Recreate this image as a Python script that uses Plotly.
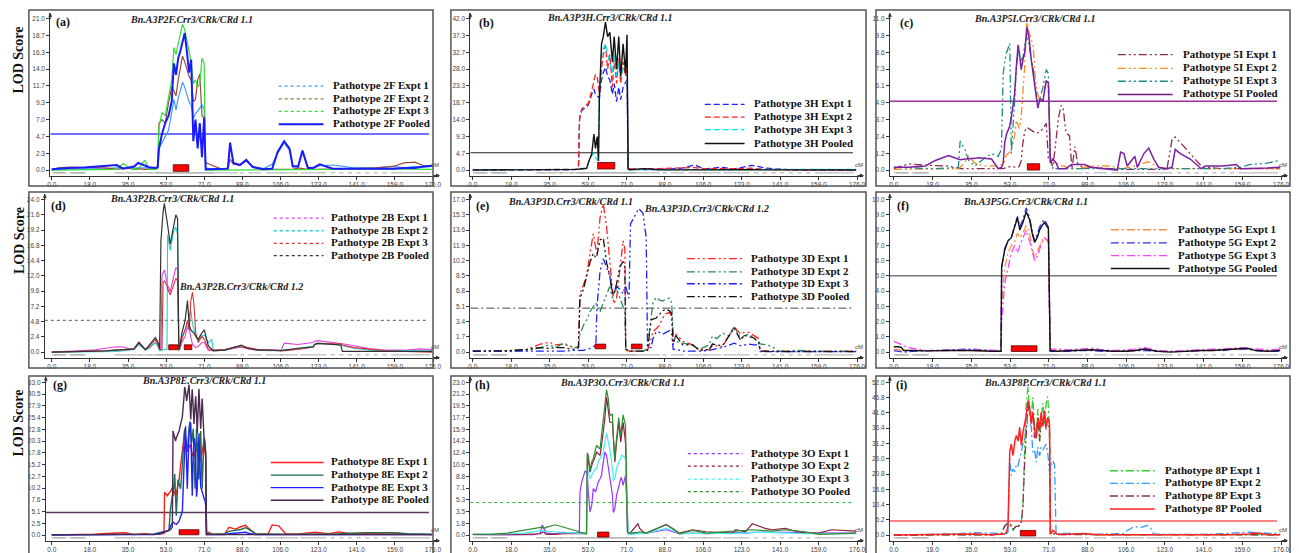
import plotly.graph_objects as go

W, H = 1299, 553

# ---------------- shared axis data ----------------
MAP_LENGTH = 176.4
X_TICK_LABELS = ["0.0", "18.0", "35.0", "53.0", "71.0", "88.0", "106.0", "123.0", "141.0", "159.0", "176.0"]
EXPERIMENTS = ["Expt 1", "Expt 2", "Expt 3", "Pooled"]
MARKER_CM = [1, 2, 3, 4, 5, 6, 9, 10, 11, 12, 13, 14, 15, 30, 31.5, 33, 35, 36.5, 38, 40, 41, 43, 45, 46,
             48, 49, 50, 51, 52, 53, 54, 55, 56, 57, 58, 59, 60, 61, 62, 63, 64, 65, 66, 67, 68, 69, 70,
             71, 72, 73, 74, 75, 77, 79, 81, 83, 85, 88, 92, 94, 96, 100, 102, 104, 106, 107, 109, 111,
             113, 116, 118, 120, 122, 124, 126, 130, 134, 138, 142, 146, 150, 154, 158, 160, 162, 164,
             166, 168, 170, 172, 174]

# ---------------- (a) Pathotype 2F ----------------
A_CM = [0, 3, 8, 15, 25, 30, 33, 35, 38, 40, 43, 45, 48, 49, 49.6, 51, 52.5, 54, 55.5, 56.5,
        57.5, 58.5, 59.5, 60.5, 61.5, 62.5, 63.5, 64.5, 65.5, 66.5, 67.5, 68.5, 69.5, 70.5, 71.2, 73, 78, 81.5, 82.5, 84,
        87, 90, 93, 98, 102, 104.5, 107.5, 110, 111.5, 114, 116, 118.5, 121, 124, 130, 140, 150, 158, 163, 168,
        172, 176]
A_EXPT1 = [0.1, 0.1, 0.2, 0.2, 0.2, 0.3, 0.3, 0.2, 0.3, 0.3, 0.2, 0.2, 0.2, 0.3, 3.0, 3.8, 4.5, 5.5, 8.0, 9.8,
           8.3, 10.0, 11.0, 12.2, 11.5, 10.5, 9.5, 9.0, 7.2, 7.8, 8.2, 8.5, 9.0, 8.5, 0.3, 0.2, 0.1, 0.3, 3.5, 1.0,
           0.7, 1.3, 0.5, 0.2, 0.8, 2.3, 3.8, 2.7, 0.6, 0.6, 2.5, 0.4, 0.3, 0.6, 0.7, 0.3, 0.3, 0.5, 0.3, 0.5,
           0.4, 0.5]
A_EXPT2 = [0.0, 0.3, 0.4, 0.4, 0.3, 0.1, 0.2, 0.3, 0.1, 0.2, 0.1, 0.1, 0.2, 0.3, 6.5, 7.0, 6.5, 9.3, 11.5, 11.0,
           10.3, 12.5, 14.0, 15.8, 15.0, 14.0, 13.0, 12.5, 9.5, 9.8, 12.5, 13.3, 7.5, 7.3, 1.0, 0.8, 0.2, 0.2, 1.5, 0.8,
           0.7, 1.3, 0.5, 0.1, 0.1, 0.1, 0.1, 0.1, 0.1, 0.3, 0.2, 0.1, 0.1, 0.1, 0.1, 0.2, 0.3, 0.5, 1.0, 1.1,
           0.6, 0.6]
A_EXPT3 = [0.0, 0.0, 0.0, 0.0, 0.0, 0.1, 0.9, 0.5, 0.1, 0.1, 1.4, 0.1, 0.1, 0.2, 6.0, 8.0, 7.5, 10.0, 12.5, 17.0,
           16.0, 17.5, 18.8, 20.2, 19.5, 18.0, 16.5, 15.0, 12.0, 12.5, 11.5, 12.0, 15.5, 14.8, 0.0, 0.0, 0.0, 0.0, 0.1, 0.0,
           0.1, 0.1, 0.0, 0.0, 0.0, 0.1, 0.1, 0.1, 0.1, 0.1, 0.1, 0.1, 0.1, 0.1, 0.1, 0.2, 0.2, 0.2, 0.1, 0.1,
           0.1, 0.1]
A_POOLED = [0.1, 0.2, 0.3, 0.35, 0.55, 0.7, 0.2, 0.3, 0.5, 1.0, 0.6, 0.4, 0.3, 0.4, 3.0, 5.0, 6.5, 7.5, 9.5, 14.8,
            13.2, 15.5, 16.5, 18.0, 19.0, 16.5, 13.5, 15.3, 4.0, 7.0, 3.0, 6.5, 1.8, 7.3, 0.1, 0.1, 0.1, 0.2, 3.8, 1.0,
            0.7, 1.4, 0.4, 0.1, 0.2, 2.5, 4.0, 3.0, 0.5, 0.5, 2.7, 0.3, 0.3, 0.8, 0.2, 0.2, 0.1, 0.2, 0.3, 0.3,
            0.5, 0.6]
A_QTL = [(56.2, 63.4)]

# ---------------- (b) Pathotype 3H ----------------
B_CM = [0, 20, 40, 47, 48.5, 49, 50, 52.3, 53, 54.6, 55.6, 56.3, 57.1, 57.7, 58.1, 59.1, 59.9, 60.9, 61.9, 62.9,
        64.1, 64.9, 66.0, 67.0, 67.9, 69.0, 70.1, 70.8, 71.3, 72, 79, 85, 95, 102, 106, 114, 120, 128, 135, 145,
        176]
B_EXPT1 = [0, 0, 0, 0.1, 0.4, 14.5, 16.5, 17.5, 18.0, 21.0, 22.5, 21.0, 20.5, 20.0, 20.0, 25.0, 27.0, 28.5, 26.0, 25.0,
           21.0, 24.0, 19.0, 23.0, 19.5, 23.0, 24.0, 25.0, 0.5, 0.2, 0.1, 0.2, 0.4, 1.4, 0.3, 0.8, 0.3, 1.3, 0.5, 0.1,
           0]
B_EXPT2 = [0, 0, 0.1, 0.2, 0.5, 14.0, 17.0, 18.0, 18.5, 22.0, 25.0, 26.5, 26.0, 22.0, 21.0, 28.0, 32.0, 34.5, 28.0, 32.0,
           23.0, 31.0, 24.0, 31.0, 24.0, 30.0, 26.0, 30.5, 0.5, 0.3, 0.3, 0.4, 0.6, 0.7, 0.4, 0.3, 0.4, 0.5, 0.2, 0.1,
           0]
B_EXPT3 = [0, 0, 0, 0, 0.1, 0.2, 0.3, 0.5, 2.0, 4.0, 4.7, 3.5, 3.0, 2.5, 20.0, 32.0, 33.5, 35.0, 32.0, 30.0,
           27.0, 32.0, 26.0, 30.0, 26.0, 28.0, 30.0, 32.0, 0.2, 0.1, 0.1, 0.1, 0.1, 0.1, 0.1, 0.1, 0.1, 0.1, 0.1, 0.1,
           0.2]
B_POOLED = [0, 0, 0, 0.1, 0.2, 0.3, 0.3, 0.5, 2.0, 4.5, 10.0, 6.0, 9.3, 2.5, 20.0, 35.0, 37.0, 41.0, 37.0, 38.2,
            30.0, 37.0, 28.0, 37.0, 26.0, 35.0, 27.0, 37.5, 0.3, 0.1, 0.4, 0.1, 0.05, 0.1, 0.1, 0.1, 0.05, 0.1, 0.05, 0,
            0]
B_QTL = [(57.3, 65.2)]

# ---------------- (c) Pathotype 5I ----------------
C_CM = [0, 6.8, 14.3, 18.9, 24.9, 29.4, 30.2, 32.4, 34, 37, 38.5, 41.5, 44.5, 47.5, 49, 49.8, 50.5, 51.3, 52.8, 53.5,
        55, 55.8, 56.6, 57.2, 58, 58.8, 59.6, 60.6, 61.6, 62.6, 63.5, 64.5, 65.6, 66.6, 67.9, 69.4, 70.4, 71.3, 72.4, 74,
        75, 76.2, 77.2, 78.4, 80, 81.1, 82.5, 83.7, 86.7, 90, 97, 101.8, 103.3, 104.8, 106.3, 107.8, 109.8, 110.9, 113.9, 116.1,
        118.4, 120.7, 124.4, 126.7, 128.2, 130.5, 135, 140, 142, 150, 156, 158, 162, 170, 176]
C_EXPT1 = [0.1, 0.45, 0.35, 0.35, 0.3, 0.1, 0.1, 0.05, 0.05, 0.05, 0.05, 0.05, 0.05, 0.1, 0.1, 0.1, 0.15, 0.2, 0.25, 0.25,
           0.2, 0.2, 0.2, 0.3, 0.7, 2.0, 2.8, 3.1, 3.0, 2.9, 2.8, 2.7, 2.7, 2.8, 3.0, 3.4, 0.8, 0.9, 0.1, 2.5,
           3.8, 4.7, 4.4, 2.7, 2.5, 0.1, 1.7, 0.5, 0.1, 0.2, 0.1, 0.05, 0.05, 0.05, 0.05, 0.05, 0.05, 0.05, 0.05, 0.05,
           0.05, 0.05, 0.05, 2.2, 2.4, 2.0, 1.2, 0.3, 0.2, 0.1, 0.1, 0.1, 0.1, 0.1, 0.1]
C_EXPT2 = [0.05, 0.05, 0.05, 0.05, 0.1, 0.1, 0.2, 0.6, 1.0, 0.5, 0.4, 0.3, 0.3, 0.3, 0.4, 0.4, 0.7, 1.1, 1.3, 1.4,
           2.5, 3.6, 3.3, 3.0, 3.8, 5.5, 7.5, 10.9, 10.0, 9.5, 9.0, 6.5, 5.5, 5.0, 5.2, 6.5, 6.0, 0.5, 0.5, 0.5,
           0.4, 0.3, 0.3, 0.2, 0.1, 0.1, 0.1, 0.1, 0.2, 0.3, 0.3, 0.2, 0.1, 0.1, 0.2, 0.2, 0.3, 0.3, 0.5, 0.6,
           0.4, 0.2, 0.1, 0.1, 0.1, 0.1, 0.05, 0.05, 0.05, 0.05, 0.05, 0.05, 0.05, 0.05, 0.1]
C_EXPT3 = [0.2, 0.15, 0.1, 0.1, 0.15, 0.2, 2.1, 1.5, 0.7, 0.3, 0.5, 0.9, 1.2, 1.0, 1.5, 7.0, 7.8, 8.5, 9.2, 1.2,
           5.0, 7.5, 8.6, 8.2, 8.0, 8.2, 9.0, 9.9, 9.0, 8.0, 7.3, 5.8, 5.0, 5.2, 6.0, 7.3, 7.0, 0.5, 0.3, 0.1,
           0.1, 0.1, 0.1, 0.1, 0.1, 0.1, 0.1, 0.1, 0.1, 0.1, 0.1, 0.1, 0.1, 0.1, 0.1, 0.1, 0.1, 0.1, 0.1, 0.1,
           0.1, 0.1, 0.1, 0.1, 0.1, 0.1, 0.1, 0.1, 0.1, 0.1, 0.2, 0.2, 0.4, 0.5, 0.7]
C_POOLED = [0.2, 0.2, 0.3, 0.7, 1.05, 0.8, 0.75, 0.8, 0.8, 0.85, 0.9, 0.85, 0.8, 0.1, 0.2, 0.5, 2.0, 2.6, 3.2, 3.8,
            5.5, 7.5, 9.1, 8.5, 7.3, 8.0, 8.5, 10.4, 9.6, 8.0, 7.0, 6.0, 4.5, 5.2, 5.0, 6.5, 6.3, 0.5, 0.8, 0.5,
            0.1, 0.1, 0.1, 0.1, 0.3, 0.4, 0.4, 0.4, 0.4, 0.2, 0.1, 0.0, 1.3, 1.2, 0.3, 0.6, 1.0, 0.2, 1.2, 1.6,
            0.8, 0.2, 0.1, 0.2, 1.5, 1.2, 0.8, 0.1, 0.3, 0.3, 0.4, 0.1, 0.1, 0.15, 0.2]
C_QTL = [(60.8, 66.4)]

# ---------------- (d) Pathotype 2B ----------------
D_CM = [0, 10, 18.8, 25, 29.6, 33.4, 36, 38, 40.3, 41.8, 43.3, 44.9, 47.9, 49.2, 49.9, 50.5, 51, 51.5, 52.1, 53.3,
        53.6, 54.8, 56.4, 57.4, 58.2, 58.8, 59.3, 60.2, 61.7, 62.8, 63.6, 64.3, 65.1, 65.8, 66.6, 67.8, 69.4, 70.6, 72.4, 74,
        74.8, 80, 84.7, 87.7, 90.8, 95.4, 101, 106.1, 107.6, 113.8, 121, 121.6, 123, 133.7, 134.5, 139.8, 147.5, 155.1, 163, 170.4,
        176]
D_EXPT1 = [0.0, 0.1, 0.3, 0.6, 0.85, 0.8, 0.5, 0.4, 1.2, 0.8, 0.4, 0.6, 1.5, 1.0, 0.5, 0.5, 12.0, 12.5, 12.9, 11.0,
           10.5, 9.5, 12.0, 13.3, 13.0, 0.3, 0.5, 1.5, 2.5, 4.0, 3.5, 2.5, 1.2, 1.0, 0.7, 0.9, 1.5, 1.5, 0.3, 0.2,
           0.2, 0.3, 0.6, 0.8, 0.5, 0.3, 0.3, 0.3, 1.4, 1.2, 1.5, 1.7, 1.8, 1.4, 1.3, 1.0, 0.5, 0.3, 0.3, 0.5,
           0.4]
D_EXPT2 = [0.0, 0.0, 0.05, 0.1, 0.1, 0.2, 0.3, 0.4, 1.2, 0.8, 0.3, 0.6, 1.5, 0.8, 0.2, 0.2, 0.3, 0.3, 0.4, 0.4,
           18.5, 16.0, 19.0, 19.7, 18.5, 0.3, 0.8, 2.5, 3.5, 4.5, 5.5, 6.6, 4.5, 3.5, 2.5, 1.8, 2.5, 2.7, 1.5, 2.0,
           0.3, 0.3, 0.8, 1.0, 0.6, 0.3, 0.2, 0.2, 0.3, 0.5, 1.0, 1.2, 1.3, 1.2, 1.0, 0.6, 0.3, 0.2, 0.2, 0.2,
           0.2]
D_EXPT3 = [0.0, 0.05, 0.1, 0.2, 0.3, 0.3, 0.4, 0.5, 1.6, 1.0, 0.4, 0.8, 2.0, 1.2, 0.4, 0.4, 0.5, 11.0, 11.2, 10.5,
           10.0, 9.0, 10.5, 11.6, 11.2, 0.3, 0.8, 2.0, 3.5, 5.0, 3.5, 8.0, 9.4, 7.5, 3.0, 1.5, 2.5, 2.0, 0.5, 0.3,
           0.3, 0.4, 0.8, 0.8, 0.7, 0.4, 0.3, 0.2, 0.2, 0.4, 0.8, 1.2, 1.3, 1.3, 1.1, 0.7, 0.4, 0.2, 0.1, 0.05,
           0.0]
D_POOLED = [0.0, 0.05, 0.1, 0.2, 0.3, 0.4, 0.4, 0.5, 1.5, 1.0, 0.4, 1.0, 2.3, 1.5, 0.5, 17.5, 20.0, 22.0, 23.4, 21.0,
            20.0, 17.0, 20.0, 21.6, 21.0, 0.3, 1.0, 3.0, 5.0, 8.1, 4.3, 3.5, 3.2, 3.0, 2.5, 2.0, 3.0, 3.5, 1.0, 0.4,
            0.2, 0.3, 0.8, 1.1, 0.6, 0.3, 0.3, 0.2, 0.3, 0.6, 0.8, 1.2, 1.4, 1.1, 0.1, 0.1, 0.2, 0.1, 0.1, 0.1,
            0.1]
D_QTL = [(54.1, 58.2), (61.3, 64.8)]

# ---------------- (e) Pathotype 3D ----------------
E_CM = [0, 15.8, 25, 31, 35, 38, 41.6, 46.2, 48.5, 49.2, 50.8, 52.3, 53.8, 55.3, 56.5, 57, 58.4, 59.9, 61.4, 62.9,
        64.1, 64.7, 66, 67.5, 69, 69.8, 70.2, 71.7, 72.4, 75.1, 76.1, 78.1, 79.6, 80.2, 81.9, 82.7, 84.2, 85.7, 87.2, 88.7,
        90.3, 91.3, 92, 93.3, 96.4, 100.9, 104, 108.5, 110, 112, 114.6, 117.6, 120, 123, 124.5, 126.7, 129, 131.3, 132, 135,
        137.4, 140.4, 148, 160, 176]
E_EXPT1 = [0.1, 0.1, 0.3, 0.9, 1.1, 0.8, 0.9, 0.5, 0.6, 6.5, 7.5, 8.6, 11.0, 13.2, 11.5, 11.0, 15.0, 16.5, 14.0, 10.0,
           7.0, 5.4, 6.0, 9.0, 12.4, 11.5, 0.2, 0.1, 0.1, 0.1, 0.1, 0.1, 0.2, 0.2, 1.5, 2.3, 2.6, 3.0, 3.8, 4.3,
           4.4, 4.0, 0.8, 2.0, 1.2, 0.8, 0.2, 0.3, 0.7, 0.7, 0.6, 1.8, 2.8, 2.0, 2.2, 2.2, 1.8, 1.5, 0.1, 0.1,
           0.05, 0.05, 0.05, 0.1, 0.1]
E_EXPT2 = [0.1, 0.1, 0.2, 0.5, 0.8, 0.5, 1.0, 0.5, 0.5, 2.0, 3.0, 3.6, 4.5, 5.0, 5.5, 5.0, 4.5, 5.5, 6.5, 7.3,
           6.0, 6.5, 7.1, 6.0, 5.0, 4.5, 0.3, 0.1, 0.1, 0.1, 0.1, 0.1, 0.3, 0.5, 4.0, 5.5, 6.1, 5.8, 5.7, 5.9,
           6.0, 5.5, 1.8, 1.2, 1.0, 0.8, 0.3, 0.8, 1.8, 1.5, 2.1, 1.8, 2.8, 1.5, 1.8, 2.0, 1.6, 1.0, 0.9, 0.8,
           0.6, 0.1, 0.2, 0.1, 0.1]
E_EXPT3 = [0.1, 0.1, 0.1, 0.1, 0.1, 0.1, 0.1, 0.2, 0.2, 0.2, 0.2, 0.3, 0.4, 0.6, 0.8, 5.0, 9.0, 10.4, 9.5, 8.5,
           6.5, 6.8, 7.3, 7.0, 6.5, 7.2, 7.3, 6.0, 14.3, 15.5, 16.0, 15.5, 12.8, 0.5, 0.5, 1.5, 2.3, 2.2, 2.0, 2.2,
           2.4, 2.0, 0.3, 0.3, 0.1, 0.1, 0.1, 0.2, 0.3, 0.4, 0.5, 0.8, 1.0, 0.7, 0.8, 0.9, 0.8, 0.8, 0.05, 0.05,
           0.05, 0.05, 0.05, 0.05, 0.05]
E_POOLED = [0.1, 0.15, 0.3, 0.5, 0.4, 0.5, 0.5, 0.3, 0.5, 6.0, 7.0, 8.5, 10.0, 11.0, 10.5, 10.8, 12.5, 12.7, 10.0, 8.5,
            6.5, 6.5, 7.6, 9.5, 10.1, 9.5, 0.3, 0.2, 0.1, 0.1, 0.1, 0.1, 0.2, 0.2, 3.6, 3.7, 3.8, 4.2, 4.6, 4.8,
            4.6, 4.3, 1.0, 1.8, 0.8, 0.8, 0.2, 0.3, 0.9, 0.8, 0.7, 1.8, 2.7, 1.3, 1.9, 1.7, 1.6, 1.0, 0.1, 0.1,
            0.05, 0.05, 0.05, 0.05, 0.05]
E_QTL = [(56.1, 61.0), (72.8, 77.7)]

# ---------------- (f) Pathotype 5G ----------------
F_CM = [0, 2, 3.5, 4.5, 8, 15, 25, 35, 45, 48.8, 49.1, 50.5, 52, 53.5, 55, 56.3, 57.4, 58.8, 60.3, 61.8,
        63, 64.1, 65.3, 66.4, 67.5, 68.6, 70.4, 71.2, 74, 80, 85, 90, 95, 100, 106, 110, 114, 120, 126, 132,
        140, 145, 150, 155, 158, 161, 165, 170, 176]
F_EXPT1 = [0.2, 0.15, 0.1, 0.1, 0.1, 0.1, 0.1, 0.1, 0.05, 0.05, 3.0, 5.5, 6.5, 7.0, 7.2, 7.8, 7.5, 7.8, 8.3, 7.8,
           6.8, 6.2, 6.6, 7.0, 7.3, 7.5, 7.2, 0.1, 0.15, 0.1, 0.1, 0.15, 0.1, 0.05, 0.05, 0.1, 0.2, 0.05, 0.05, 0.05,
           0.1, 0.1, 0.15, 0.2, 0.25, 0.2, 0.15, 0.1, 0.15]
F_EXPT2 = [0.1, 0.05, 0.0, 0.0, 0.05, 0.1, 0.15, 0.2, 0.1, 0.05, 5.5, 6.8, 7.3, 7.5, 8.3, 8.9, 8.2, 8.7, 9.45, 8.8,
           8.0, 7.3, 7.7, 8.2, 8.5, 8.7, 8.2, 0.05, 0.05, 0.05, 0.1, 0.1, 0.05, 0.05, 0.1, 0.1, 0.1, 0.05, 0.05, 0.05,
           0.1, 0.15, 0.1, 0.2, 0.2, 0.2, 0.1, 0.05, 0.05]
F_EXPT3 = [0.7, 0.6, 0.5, 0.4, 0.25, 0.1, 0.1, 0.15, 0.1, 0.1, 2.0, 4.5, 5.5, 6.5, 7.0, 6.5, 7.0, 7.5, 8.0, 7.3,
           6.5, 6.0, 6.3, 6.8, 7.2, 7.5, 7.3, 0.2, 0.2, 0.15, 0.2, 0.25, 0.15, 0.1, 0.15, 0.2, 0.3, 0.1, 0.05, 0.1,
           0.15, 0.2, 0.2, 0.25, 0.3, 0.25, 0.2, 0.15, 0.2]
F_POOLED = [0.35, 0.35, 0.3, 0.1, 0.1, 0.08, 0.1, 0.1, 0.05, 0.05, 5.6, 6.7, 7.3, 7.5, 8.2, 8.8, 8.0, 8.5, 9.2, 8.7,
            7.8, 7.2, 7.5, 8.0, 8.3, 8.5, 8.1, 0.1, 0.05, 0.1, 0.1, 0.15, 0.1, 0.05, 0.05, 0.1, 0.2, 0.05, 0.0, 0.05,
            0.1, 0.1, 0.15, 0.2, 0.2, 0.25, 0.1, 0.05, 0.1]
F_QTL = [(53.5, 65.2)]

# ---------------- (g) Pathotype 8E ----------------
G_CM = [0, 10, 20, 25, 30, 34, 38, 43, 47, 49.6, 51.2, 51.9, 52.2, 53.5, 54.2, 55.0, 55.8, 56.1, 56.9, 57.3,
        57.6, 58.4, 58.9, 59.6, 60.4, 61.2, 61.5, 61.9, 62.4, 62.7, 63.5, 63.9, 64.3, 64.7, 65.0, 65.5, 65.8, 66.3, 66.6, 67.0,
        67.3, 68.1, 68.9, 69.6, 70.4, 70.9, 71.2, 71.6, 72.7, 74, 80, 82, 85, 87.4, 89.7, 91, 94.3, 100, 102, 105,
        108.2, 113, 119, 122, 128, 132.8, 138, 145, 157.5, 165, 176]
G_EXPT1 = [0.05, 0.1, 0.2, 0.35, 0.4, 0.5, 0.1, 0.3, 0.1, 0.2, 0.3, 0.3, 9.3, 8.5, 9.0, 9.5, 10.3, 10.0, 9.0, 8.5,
           9.0, 11.0, 12.0, 15.0, 18.0, 21.0, 22.5, 21.0, 19.0, 18.0, 19.0, 19.5, 19.6, 18.0, 17.5, 17.0, 17.0, 18.0, 18.5, 19.0,
           18.0, 17.0, 16.0, 18.0, 20.3, 18.0, 17.0, 0.3, 0.6, 0.2, 0.2, 1.7, 1.3, 1.8, 2.1, 1.5, 0.2, 0.2, 2.2, 2.0,
           0.3, 0.2, 0.4, 0.6, 0.3, 0.7, 0.3, 0.3, 0.5, 0.2, 0.1]
G_EXPT2 = [0.05, 0.05, 0.05, 0.1, 0.1, 0.1, 0.1, 0.1, 0.2, 0.5, 0.6, 0.7, 0.8, 0.9, 1.0, 6.0, 8.5, 8.5, 13.2, 8.0,
           4.2, 12.0, 11.0, 10.0, 15.0, 20.0, 23.0, 21.0, 19.0, 18.0, 23.0, 24.6, 22.0, 20.0, 21.0, 23.0, 17.0, 10.0, 16.0, 23.0,
           20.0, 12.0, 22.5, 10.0, 21.0, 19.0, 17.8, 0.2, 0.3, 0.2, 0.3, 0.8, 1.0, 1.2, 1.6, 1.3, 0.3, 0.2, 0.2, 0.2,
           0.2, 0.2, 0.2, 0.2, 0.3, 0.3, 0.4, 0.5, 0.5, 0.3, 0.2]
G_EXPT3 = [0.05, 0.05, 0.05, 0.05, 0.05, 0.05, 0.05, 0.05, 0.1, 0.3, 0.5, 0.6, 0.7, 0.8, 1.0, 2.0, 2.8, 2.8, 2.5, 2.3,
           2.3, 2.7, 3.0, 4.0, 5.0, 15.0, 20.0, 23.5, 15.0, 10.0, 22.0, 23.5, 24.3, 15.0, 8.5, 18.0, 21.0, 20.0, 14.0, 8.3,
           10.0, 22.0, 10.5, 9.0, 8.0, 7.5, 6.5, 0.1, 0.1, 0.1, 0.1, 0.3, 0.4, 0.5, 0.6, 0.4, 0.1, 0.1, 0.1, 0.1,
           0.1, 0.1, 0.1, 0.1, 0.1, 0.1, 0.2, 0.2, 0.2, 0.1, 0.1]
G_POOLED = [0.05, 0.05, 0.1, 0.1, 0.1, 0.1, 0.1, 0.1, 0.1, 0.2, 0.5, 0.6, 0.7, 0.8, 1.0, 1.2, 1.8, 22.5, 21.0, 20.3,
            21.0, 22.0, 22.5, 24.0, 25.5, 30.0, 32.0, 31.0, 29.0, 30.0, 32.5, 29.0, 25.0, 29.0, 31.5, 27.0, 24.0, 28.0, 30.0, 26.0,
            22.0, 31.6, 23.0, 29.5, 21.5, 20.0, 18.0, 0.1, 0.1, 0.1, 0.1, 0.1, 0.1, 0.1, 0.1, 0.1, 0.1, 0.1, 0.1, 0.1,
            0.1, 0.1, 0.1, 0.1, 0.1, 0.1, 0.1, 0.1, 0.1, 0.1, 0.1]
G_QTL = [(58.9, 68.1)]

# ---------------- (h) Pathotype 3O ----------------
H_CM = [0, 8.2, 15.8, 23.4, 28, 31, 31.8, 32.5, 33.3, 34, 37.8, 41.6, 46.2, 47.7, 48.9, 49.2, 50, 50.8, 51.5, 52.2,
        52.6, 53, 53.8, 54.6, 55.3, 56.4, 56.8, 57.6, 58.4, 59.1, 59.9, 60.6, 61.4, 62.2, 62.9, 64.1, 64.5, 65.2, 66.0, 67.0,
        67.9, 68.2, 69.0, 70.1, 71.0, 71.4, 72, 75.8, 76.6, 78.1, 79.6, 88.8, 91.8, 94.8, 100.9, 107, 119.1, 120.7, 125.2, 128.3,
        134.3, 137.4, 143.5, 146.5, 152.6, 158.7, 164.7, 173.9, 176]
H_EXPT1 = [0.05, 0.05, 0.05, 0.05, 0.05, 0.3, 1.5, 1.2, 0.5, 0.3, 0.2, 0.4, 0.3, 0.3, 0.5, 6.5, 8.0, 9.0, 9.6, 9.5,
           9.0, 6.5, 3.5, 4.5, 7.0, 6.5, 7.0, 8.0, 8.5, 9.0, 11.0, 12.5, 12.0, 10.0, 9.0, 6.0, 3.4, 4.0, 6.0, 7.5,
           8.5, 8.7, 7.5, 9.0, 2.0, 0.3, 0.2, 0.3, 0.3, 0.3, 0.3, 0.8, 0.5, 0.2, 0.3, 0.2, 0.3, 0.4, 0.3, 0.4,
           0.4, 0.4, 0.5, 0.4, 0.3, 0.3, 0.4, 0.3, 0.3]
H_EXPT2 = [0.1, 0.05, 0.05, 0.1, 0.1, 0.2, 0.4, 0.5, 0.2, 0.1, 0.1, 0.2, 0.2, 0.2, 0.2, 0.2, 0.2, 0.2, 0.2, 0.2,
           12.2, 11.5, 9.5, 10.5, 11.0, 12.0, 12.5, 12.3, 12.0, 13.5, 15.5, 17.5, 20.8, 19.0, 17.0, 17.0, 14.0, 11.0, 14.0, 17.0,
           14.0, 15.0, 17.0, 14.0, 0.5, 0.2, 0.2, 1.7, 1.0, 0.5, 0.3, 1.6, 1.0, 0.3, 0.8, 0.5, 0.3, 0.8, 0.5, 1.7,
           1.0, 0.8, 1.0, 0.7, 0.3, 0.3, 0.8, 0.7, 0.6]
H_EXPT3 = [0.1, 0.1, 0.2, 0.3, 0.5, 0.6, 0.7, 0.6, 0.6, 0.6, 0.5, 0.4, 0.4, 0.3, 0.2, 0.2, 0.2, 0.2, 0.2, 0.2,
           10.2, 9.5, 8.5, 9.0, 9.5, 10.0, 10.0, 11.0, 11.5, 12.0, 12.5, 14.0, 15.4, 14.0, 13.0, 10.0, 8.2, 8.5, 10.0, 11.0,
           11.5, 12.0, 11.9, 11.5, 1.0, 0.2, 0.1, 0.2, 0.2, 0.2, 0.3, 1.0, 0.7, 0.2, 0.3, 0.3, 0.2, 0.3, 0.3, 0.4,
           0.4, 0.4, 0.4, 0.3, 0.2, 0.2, 0.2, 0.2, 0.2]
H_POOLED = [0.1, 0.1, 0.3, 0.7, 0.9, 1.1, 1.2, 1.0, 1.1, 1.2, 1.55, 1.2, 0.8, 0.6, 0.5, 0.4, 0.4, 0.3, 0.3, 0.2,
            12.4, 12.0, 9.8, 11.0, 11.5, 13.0, 13.5, 13.2, 13.0, 15.0, 17.0, 19.5, 21.9, 20.5, 18.0, 18.2, 15.0, 11.4, 14.5, 17.7,
            15.0, 16.0, 18.1, 16.5, 0.5, 0.3, 0.3, 0.4, 0.5, 0.4, 0.3, 1.55, 1.0, 0.2, 0.7, 0.3, 0.5, 0.6, 0.7, 0.8,
            0.7, 0.6, 0.8, 0.7, 0.5, 0.1, 0.2, 0.3, 0.3]
H_QTL = [(57.3, 62.5)]

# ---------------- (i) Pathotype 8P ----------------
I_CM = [0, 10, 20, 29.4, 37, 44.5, 49, 50.5, 51.3, 52, 52.8, 53.5, 54.3, 55.1, 55.8, 56.6, 57.3, 58.1, 58.8, 59.6,
        60.3, 61.1, 61.8, 62.6, 63.3, 64.1, 64.9, 65.6, 66.4, 67.1, 67.9, 68.6, 69.4, 70.1, 70.9, 71.3, 71.6, 72.4, 73.2, 73.9,
        74.7, 77.7, 86.7, 92.8, 104.8, 106.3, 109.4, 112.4, 115.4, 116.9, 118.4, 125, 135, 145, 151.6, 162.1, 165.2, 171.2, 176]
I_EXPT1 = [0.0, 0.0, 0.1, 0.2, 0.1, 0.1, 0.5, 3.3, 3.8, 4.1, 4.0, 3.5, 1.5, 2.5, 3.5, 3.2, 3.5, 4.5, 10.0, 30.0,
           45.0, 50.5, 42.0, 40.0, 46.9, 37.0, 35.0, 43.0, 32.0, 40.0, 45.0, 38.0, 45.0, 47.2, 37.0, 0.5, 0.6, 0.8, 0.6, 0.4,
           0.3, 0.4, 0.2, 0.1, 0.1, 0.1, 0.1, 0.1, 0.1, 0.1, 0.1, 0.1, 0.1, 0.1, 0.1, 0.3, 0.3, 0.1, 0.1]
I_EXPT2 = [0.0, 0.1, 0.2, 0.5, 0.8, 0.5, 0.5, 0.5, 0.6, 1.0, 25.9, 20.3, 22.5, 21.5, 24.0, 23.5, 26.0, 29.0, 31.0, 33.0,
           37.0, 38.4, 38.0, 37.0, 28.2, 29.0, 24.8, 30.0, 27.0, 30.0, 29.0, 30.0, 31.0, 28.0, 21.4, 22.0, 24.0, 25.3, 24.0, 0.5,
           0.3, 0.6, 0.4, 0.3, 0.5, 1.5, 2.9, 2.5, 3.3, 2.5, 0.3, 0.2, 0.2, 0.3, 0.5, 1.0, 0.8, 0.5, 0.5]
I_EXPT3 = [0.0, 0.0, 0.1, 0.2, 0.2, 0.1, 0.4, 3.0, 3.6, 4.0, 3.5, 3.0, 2.0, 2.5, 3.0, 3.0, 3.2, 4.5, 10.0, 25.0,
           35.0, 44.5, 42.0, 38.0, 41.0, 33.0, 34.0, 40.0, 32.0, 38.0, 38.0, 40.0, 36.0, 40.0, 36.0, 0.3, 0.4, 0.5, 0.4, 0.3,
           0.2, 0.2, 0.2, 0.1, 0.1, 0.1, 0.1, 0.1, 0.1, 0.1, 0.1, 0.1, 0.1, 0.1, 0.1, 0.3, 0.3, 0.1, 0.1]
I_POOLED = [0.0, 0.05, 0.2, 0.3, 0.4, 0.1, 0.3, 0.4, 1.0, 3.0, 28.4, 31.0, 27.1, 32.0, 33.9, 32.0, 36.7, 30.5, 35.0, 37.5,
            40.7, 45.8, 44.0, 38.0, 42.0, 36.0, 33.0, 40.0, 36.0, 41.8, 37.0, 42.4, 37.0, 40.0, 38.0, 0.3, 0.8, 1.6, 1.2, 0.6,
            0.3, 0.2, 0.5, 0.1, 0.1, 0.1, 0.1, 0.2, 0.2, 0.2, 0.2, 0.1, 0.1, 0.1, 0.1, 0.4, 0.7, 0.1, 0.1]
I_QTL = [(57.6, 64.6)]

# ---------------- styling ----------------
SERIF = "Liberation Serif, Times New Roman, serif"
SANS = "Liberation Sans, Arial, sans-serif"
DD = "8px,3px,2px,3px,2px,3px"
DASHDOT = "8px,3px,2px,3px"
DASH = "6px,3px"

ROW_GEOM = [(171.0, 18.7), (354.0, 200.7), (538.0, 384.5)]  # (py of LOD 0, py of top tick)
COL_GEOM = [(49.0, 432.0), (472.0, 858.0), (895.0, 1284.0)]  # (px of 0 cM, px of last tick)
AXIS_X = [[47.5, 42.0, 43.0], [469.5, 469.5, 469.5], [891.0, 891.0, 891.0]]
FRAME_X = [(26, 432), (450, 867), (877, 1293)]
FRAME_Y = [(10, 187), (193, 370), (378, 562)]

# each style: (plot colour, plot dash, legend colour, legend dash, width)
PANELS = [
    dict(row=0, col=0, pt="2F", cm=A_CM, vals=[A_EXPT1, A_EXPT2, A_EXPT3, A_POOLED], ytop=21.0, ndiv=9, thr=5.0, qtl=A_QTL,
         bar=(5.4, -1.3),
         styles=[("#3d9bff", "solid", "#3d9bff", "dot", 1.2), ("#9c4a3c", "solid", "#8a7a30", "dot", 1.2),
                 ("#33dd33", "solid", "#33dd33", "dot", 1.2), ("#1a1aff", "solid", "#1a1aff", "solid", 2.0)],
         thr_style=("#7070ff", "solid", 2.0),
         titles=[("Bn.A3P2F.Crr3/CRk/CRd 1.1", 189, 20)], label=("(a)", 60, 22),
         legend=(277, 322, 330, [85.5, 98.5, 111, 124])),
    dict(row=0, col=1, pt="3H", cm=B_CM, vals=[B_EXPT1, B_EXPT2, B_EXPT3, B_POOLED], ytop=42.0, ndiv=9, thr=4.8, qtl=B_QTL,
         bar=(7.6, 1.1),
         styles=[("#2020ff", DASH, "#2020ff", DASH, 1.3), ("#ff2020", DASH, "#ff2020", DASH, 1.3),
                 ("#00e0f0", DASH, "#00e0f0", DASH, 1.3), ("#111111", "solid", "#111111", "solid", 1.4)],
         thr_style=("#222222", "solid", 1.0),
         titles=[("Bn.A3P3H.Crr3/CRk/CRd 1.1", 609, 18)], label=("(b)", 486, 23),
         legend=(705, 745, 752, [104, 116.7, 129.3, 143.3])),
    dict(row=0, col=2, pt="5I", cm=C_CM, vals=[C_EXPT1, C_EXPT2, C_EXPT3, C_POOLED], ytop=11.0, ndiv=9, thr=5.0, qtl=C_QTL,
         bar=(6.4, 0.0),
         styles=[("#8b2a4a", DD, "#8b2a4a", DD, 1.3), ("#ff8c1a", DD, "#ff8c1a", DD, 1.3),
                 ("#1f8a8a", DD, "#1f8a8a", DD, 1.3), ("#7b1fa2", "solid", "#6a1b7a", "solid", 1.5)],
         thr_style=("#9b309b", "solid", 1.5),
         titles=[("Bn.A3P5I.Crr3/CRk/CRd 1.1", 1037, 19)], label=("(c)", 908, 23),
         legend=(1120, 1175, 1183, [54, 67.7, 80.7, 94])),
    dict(row=1, col=0, pt="2B", cm=D_CM, vals=[D_EXPT1, D_EXPT2, D_EXPT3, D_POOLED], ytop=24.0, ndiv=10, thr=5.0, qtl=D_QTL,
         bar=(7.3, 2.4),
         styles=[("#e040e0", "solid", "#e040e0", "dot", 1.1), ("#20d0d0", "solid", "#20d0d0", "dot", 1.1),
                 ("#e03030", "solid", "#e03030", "dot", 1.1), ("#333333", "solid", "#333333", "dot", 1.2)],
         thr_style=("#555555", "dot", 1.0),
         titles=[("Bn.A3P2B.Crr3/CRk/CRd 1.1", 170, 200), ("Bn.A3P2B.Crr3/CRk/CRd 1.2", 239, 288)],
         label=("(d)", 56, 207), legend=(272, 322, 328, [218.3, 231, 243.7, 256])),
    dict(row=1, col=1, pt="3D", cm=E_CM, vals=[E_EXPT1, E_EXPT2, E_EXPT3, E_POOLED], ytop=17.0, ndiv=10, thr=4.9, qtl=E_QTL,
         bar=(8.0, 3.3),
         styles=[("#ff2020", DD, "#ff2020", DD, 1.3), ("#2e8b57", DD, "#2e8b57", DD, 1.3),
                 ("#2020ff", DD, "#2020ff", DD, 1.3), ("#111111", DD, "#111111", DD, 1.3)],
         thr_style=("#444444", DASHDOT, 1.0),
         titles=[("Bn.A3P3D.Crr3/CRk/CRd 1.1", 570, 203), ("Bn.A3P3D.Crr3/CRk/CRd 1.2", 707, 210)],
         label=("(e)", 482, 207), legend=(687, 743, 749, [259, 272.3, 284.3, 297.3])),
    dict(row=1, col=2, pt="5G", cm=F_CM, vals=[F_EXPT1, F_EXPT2, F_EXPT3, F_POOLED], ytop=10.0, ndiv=10, thr=5.0, qtl=F_QTL,
         bar=(6.3, 0.6),
         styles=[("#ff8c40", DASHDOT, "#ff8c40", DASHDOT, 1.3), ("#3030ff", DASHDOT, "#3030ff", DASHDOT, 1.3),
                 ("#ff40ff", DASHDOT, "#ff40ff", DASHDOT, 1.3), ("#111111", "solid", "#111111", "solid", 1.4)],
         thr_style=("#333333", "solid", 1.0),
         titles=[("Bn.A3P5G.Crr3/CRk/CRd 1.1", 1027, 203)], label=("(f)", 904, 207),
         legend=(1113, 1172, 1178, [230, 243.3, 256, 269])),
    dict(row=2, col=0, pt="8E", cm=G_CM, vals=[G_EXPT1, G_EXPT2, G_EXPT3, G_POOLED], ytop=33.0, ndiv=13, thr=4.9, qtl=G_QTL,
         bar=(5.4, 0.3),
         styles=[("#ff2020", "solid", "#ff2020", "solid", 1.4), ("#1e6e50", "solid", "#1e6e50", "solid", 1.4),
                 ("#2020ff", "solid", "#2020ff", "solid", 1.4), ("#4a2a50", "solid", "#4a2a50", "solid", 1.4)],
         thr_style=("#5a3a5a", "solid", 1.5),
         titles=[("Bn.A3P8E.Crr3/CRk/CRd 1.1", 202, 383)], label=("(g)", 57, 387),
         legend=(269, 322, 328, [464, 476.7, 489.3, 502])),
    dict(row=2, col=1, pt="3O", cm=H_CM, vals=[H_EXPT1, H_EXPT2, H_EXPT3, H_POOLED], ytop=23.0, ndiv=13, thr=4.9, qtl=H_QTL,
         bar=(3.0, -2.0),
         styles=[("#9933ff", "solid", "#9933ff", "dot", 1.2), ("#8b2040", "solid", "#8b2040", "dot", 1.2),
                 ("#40f0f0", "solid", "#40f0f0", "dot", 1.2), ("#2e8b2e", "solid", "#2e8b2e", "dot", 1.2)],
         thr_style=("#33aa33", "dot", 1.0),
         titles=[("Bn.A3P3O.Crr3/CRk/CRd 1.1", 622, 385)], label=("(h)", 482, 387),
         legend=(688, 743, 749, [455, 467.7, 480.7, 493.3])),
    dict(row=2, col=2, pt="8P", cm=I_CM, vals=[I_EXPT1, I_EXPT2, I_EXPT3, I_POOLED], ytop=52.0, ndiv=10, thr=4.8, qtl=I_QTL,
         bar=(4.7, -0.9),
         styles=[("#33cc33", DASHDOT, "#33cc33", DASHDOT, 1.3), ("#3399ff", DASHDOT, "#3399ff", DASHDOT, 1.3),
                 ("#8b3050", DASHDOT, "#8b3050", DASHDOT, 1.3), ("#ff2020", "solid", "#ff2020", "solid", 1.5)],
         thr_style=("#ff5a5a", "solid", 1.5),
         titles=[("Bn.A3P8P.Crr3/CRk/CRd 1.1", 1047, 385)], label=("(i)", 903, 387),
         legend=(1112, 1157, 1165, [472.3, 485, 497.7, 510.7])),
]

LOD_LABEL_Y = [60, 241.5, 425]


def px(xp):
    return xp / W


def py(yp):
    return 1 - yp / H


fig = go.Figure()
shapes, annotations, axes = [], [], {}

for k, p in enumerate(PANELS, start=1):
    r, c = p["row"], p["col"]
    zero, top = ROW_GEOM[r]
    cm0, cm1 = COL_GEOM[c]
    ax_px = AXIS_X[c][r]
    sx = (cm1 - cm0) / MAP_LENGTH
    sy = (zero - top) / p["ytop"]
    right_px = cm1 + 6
    bottom_py = zero + 5.5
    top_py = top - 6
    xmin = (ax_px - cm0) / sx
    xmax = (right_px - cm0) / sx
    ymin = -5.5 / sy
    ymax = p["ytop"] + 6 / sy
    xa = "x" if k == 1 else f"x{k}"
    ya = "y" if k == 1 else f"y{k}"
    xn = "xaxis" if k == 1 else f"xaxis{k}"
    yn = "yaxis" if k == 1 else f"yaxis{k}"
    common = dict(showgrid=False, zeroline=False, showline=True, linecolor="#333", linewidth=1,
                  ticks="outside", ticklen=3, tickcolor="#333", tickwidth=1,
                  tickfont=dict(family=SANS, size=6.5, color="#444"), fixedrange=True)
    axes[xn] = dict(domain=[px(ax_px), px(right_px)], range=[xmin, xmax], anchor=ya,
                    tickmode="array", tickvals=[MAP_LENGTH * i / 10 for i in range(11)],
                    ticktext=X_TICK_LABELS, **common)
    ytv = [p["ytop"] * i / p["ndiv"] for i in range(p["ndiv"] + 1)]
    axes[yn] = dict(domain=[py(bottom_py), py(top_py)], range=[ymin, ymax], anchor=xa,
                    tickmode="array", tickvals=ytv, ticktext=[f"{v:.1f}" for v in ytv], **common)

    fig.add_trace(go.Scatter(x=MARKER_CM, y=[-2.8 / sy] * len(MARKER_CM), mode="markers", xaxis=xa, yaxis=ya,
                             marker=dict(symbol="line-ew", size=3, line=dict(width=1, color="#aaaaaa")),
                             hoverinfo="skip", showlegend=False))
    tc, td, tw = p["thr_style"]
    fig.add_trace(go.Scatter(x=[xmin, 174.5], y=[p["thr"], p["thr"]], mode="lines", xaxis=xa, yaxis=ya,
                             line=dict(color=tc, dash=td, width=tw), hoverinfo="skip", showlegend=False))
    for vals, (col, dash, lcol, ldash, wd), ename in zip(p["vals"], p["styles"], EXPERIMENTS):
        assert len(vals) == len(p["cm"]), (p["pt"], ename, len(vals), len(p["cm"]))
        fig.add_trace(go.Scatter(x=p["cm"], y=vals, mode="lines", xaxis=xa, yaxis=ya,
                                 name=f"Pathotype {p['pt']} {ename}",
                                 line=dict(color=col, dash=dash, width=wd), showlegend=False))
    bt, bb = p["bar"]
    for (q0, q1) in p["qtl"]:
        shapes.append(dict(type="rect", xref=xa, yref=ya, x0=q0, x1=q1, y0=bb / sy, y1=bt / sy,
                           fillcolor="#ff0000", line=dict(color="#550000", width=0.8), layer="above"))
    fx0, fx1 = FRAME_X[c]
    fy0, fy1 = FRAME_Y[r]
    shapes.append(dict(type="rect", xref="paper", yref="paper", x0=px(fx0), x1=px(fx1), y0=py(fy1), y1=py(fy0),
                       line=dict(color="#555555", width=1.5), fillcolor="rgba(0,0,0,0)", layer="above"))
    annotations.append(dict(x=px(ax_px), y=py(top_py), xref="paper", yref="paper", text="", showarrow=True,
                            ax=0, ay=8, arrowhead=2, arrowsize=0.8, arrowwidth=1, arrowcolor="#333"))
    annotations.append(dict(x=px(right_px + 1), y=py(bottom_py), xref="paper", yref="paper", text="", showarrow=True,
                            ax=-8, ay=0, arrowhead=2, arrowsize=0.8, arrowwidth=1, arrowcolor="#333"))
    annotations.append(dict(x=px(cm1 + 2), y=py(zero - 0.5), xref="paper", yref="paper", text="cM", showarrow=False,
                            xanchor="center", yanchor="bottom", font=dict(family=SANS, size=6, color="#444")))
    for (t, tx, ty) in p["titles"]:
        annotations.append(dict(x=px(tx), y=py(ty), xref="paper", yref="paper", text=f"<b><i>{t}</i></b>",
                                showarrow=False, xanchor="center", yanchor="middle",
                                font=dict(family=SERIF, size=10, color="#222")))
    lt, lx, ly = p["label"]
    annotations.append(dict(x=px(lx), y=py(ly), xref="paper", yref="paper", text=f"<b>{lt}</b>", showarrow=False,
                            xanchor="center", yanchor="middle", font=dict(family=SERIF, size=12, color="#111")))
    lx0, lx1, ltx, lys = p["legend"]
    for (col, dash, lcol, ldash, wd), ename, yy in zip(p["styles"], EXPERIMENTS, lys):
        shapes.append(dict(type="line", xref="paper", yref="paper", x0=px(lx0), x1=px(lx1), y0=py(yy + 1), y1=py(yy + 1),
                           line=dict(color=lcol, dash=ldash, width=max(wd, 1.3)), layer="above"))
        annotations.append(dict(x=px(ltx), y=py(yy), xref="paper", yref="paper",
                                text=f"<b>Pathotype {p['pt']} {ename}</b>", showarrow=False,
                                xanchor="left", yanchor="middle", font=dict(family=SERIF, size=11, color="#111")))

for yy in LOD_LABEL_Y:
    annotations.append(dict(x=px(16), y=py(yy), xref="paper", yref="paper", text="<b>LOD Score</b>", showarrow=False,
                            textangle=-90, xanchor="center", yanchor="middle",
                            font=dict(family=SERIF, size=14, color="#111")))

fig.update_layout(width=W, height=H, margin=dict(l=0, r=0, t=0, b=0), autosize=False,
                  paper_bgcolor="white", plot_bgcolor="white", showlegend=False,
                  shapes=shapes, annotations=annotations, **axes)

fig.write_html("out.html", config={"displayModeBar": False},
               post_script="document.body.style.margin='0px';document.body.style.overflow='hidden';")
